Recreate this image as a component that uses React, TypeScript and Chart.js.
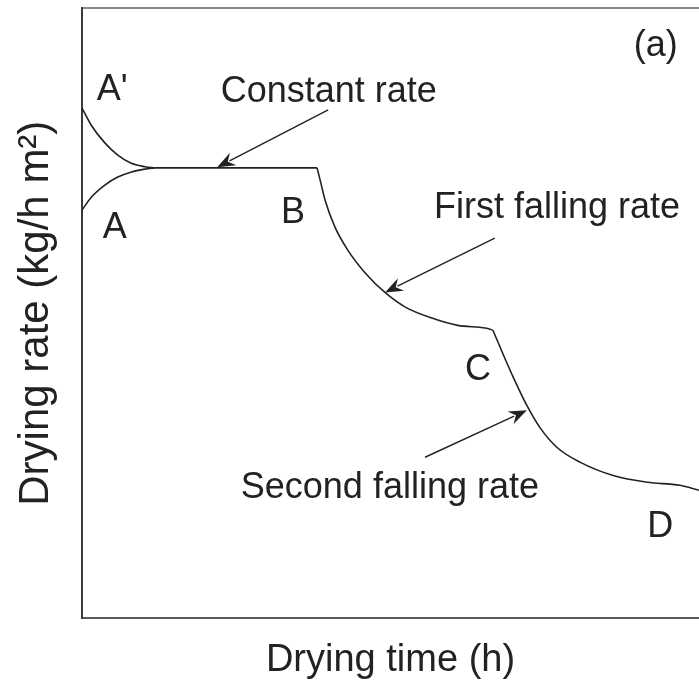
import React, { useEffect, useRef } from "react";
import { Chart, registerables } from "chart.js";

Chart.register(...registerables);

// Drying-rate curve (x: time 0–100, y: rate 0–100, arbitrary units)
const inletX = [0, 1.5, 3.7, 5.8, 7.9, 10.2, 11.8];
const inletHotY = [83.6, 80.8, 77.9, 75.9, 74.6, 74.0, 73.8]; // A'
const inletColdY = [66.9, 69.0, 71.0, 72.3, 73.1, 73.6, 73.8]; // A
const constantX = [11.8, 38.1];
const constantY = [73.8, 73.8];
const firstFallX = [38.1, 38.6, 39.4, 41.0, 43.1, 45.9, 49.1, 52.4, 56.7, 60.9, 65.8, 66.6];
const firstFallY = [73.8, 71.8, 68.5, 64.1, 60.3, 56.6, 53.4, 51.0, 49.2, 48.0, 47.5, 47.2];
const secondFallX = [66.6, 68.2, 69.9, 72.1, 74.2, 77.0, 80.7, 86.1, 91.6, 96.9, 100];
const secondFallY = [47.2, 43.4, 39.5, 34.9, 31.3, 28.0, 25.6, 23.4, 22.3, 21.8, 21.0];

// Annotation labels (data coordinates of the text baseline centre)
const labelTexts = ["A'", "A", "B", "C", "D", "Constant rate", "(a)", "First falling rate", "Second falling rate"];
const labelX = [4.9, 5.3, 34.2, 64.2, 93.7, 40.0, 93.0, 77.0, 49.9];
const labelY = [84.9, 62.3, 64.75, 39.0, 13.3, 84.6, 92.2, 65.6, 19.8];

// Arrows (data coordinates: tail -> head)
const arrowFromX = [39.9, 66.9, 55.6];
const arrowFromY = [83.3, 62.3, 26.4];
const arrowToX = [21.9, 49.1, 72.1];
const arrowToY = [73.9, 53.4, 34.1];

const xTitle = "Drying time (h)";
const yTitle = "Drying rate (kg/h m\u00B2)";

const FONT = "'Liberation Sans', Arial, Helvetica, sans-serif";
const INK = "#222222";

function toPoints(xs: number[], ys: number[]) {
  return xs.map((x, i) => ({ x, y: ys[i] }));
}

const annotationPlugin = {
  id: "annotations",
  afterDatasetsDraw(chart: any) {
    const { ctx, scales } = chart;
    const xs = scales.x;
    const ys = scales.y;
    ctx.save();
    ctx.fillStyle = INK;
    ctx.strokeStyle = INK;
    ctx.font = `36px ${FONT}`;
    ctx.textAlign = "center";
    ctx.textBaseline = "alphabetic";
    labelTexts.forEach((t, i) => {
      ctx.fillText(t, xs.getPixelForValue(labelX[i]), ys.getPixelForValue(labelY[i]));
    });
    ctx.lineWidth = 1.4;
    arrowFromX.forEach((_, i) => {
      const x1 = xs.getPixelForValue(arrowFromX[i]);
      const y1 = ys.getPixelForValue(arrowFromY[i]);
      const x2 = xs.getPixelForValue(arrowToX[i]);
      const y2 = ys.getPixelForValue(arrowToY[i]);
      const ang = Math.atan2(y2 - y1, x2 - x1);
      const headLen = 18;
      const headW = 7;
      const bx = x2 - headLen * Math.cos(ang);
      const by = y2 - headLen * Math.sin(ang);
      ctx.beginPath();
      ctx.moveTo(x1, y1);
      ctx.lineTo(bx + 4 * Math.cos(ang), by + 4 * Math.sin(ang));
      ctx.stroke();
      ctx.beginPath();
      ctx.moveTo(x2, y2);
      ctx.lineTo(bx + headW * Math.sin(ang), by - headW * Math.cos(ang));
      ctx.lineTo(x2 - (headLen - 6) * Math.cos(ang), y2 - (headLen - 6) * Math.sin(ang));
      ctx.lineTo(bx - headW * Math.sin(ang), by + headW * Math.cos(ang));
      ctx.closePath();
      ctx.fill();
    });
    ctx.restore();
  },
};

export default function App() {
  const ref = useRef<HTMLCanvasElement | null>(null);

  useEffect(() => {
    if (!ref.current) return;
    const lineStyle = {
      borderColor: INK,
      borderWidth: 1.6,
      pointRadius: 0,
      fill: false,
      cubicInterpolationMode: "monotone" as const,
    };
    const chart = new Chart(ref.current, {
      type: "line",
      data: {
        datasets: [
          { label: "A'", data: toPoints(inletX, inletHotY), ...lineStyle },
          { label: "A", data: toPoints(inletX, inletColdY), ...lineStyle },
          { label: "Constant rate", data: toPoints(constantX, constantY), ...lineStyle },
          { label: "First falling rate", data: toPoints(firstFallX, firstFallY), ...lineStyle },
          { label: "Second falling rate", data: toPoints(secondFallX, secondFallY), ...lineStyle },
        ],
      },
      options: {
        animation: false,
        responsive: true,
        maintainAspectRatio: false,
        layout: { padding: { top: 8, left: 0, right: 0, bottom: 0 } },
        plugins: {
          legend: { display: false },
          tooltip: { enabled: false },
        },
        scales: {
          x: {
            type: "linear",
            position: "bottom",
            min: 0,
            max: 100,
            ticks: { display: false },
            grid: { display: false, drawTicks: false },
            border: { display: true, color: "#5a5a5a", width: 2 },
            title: {
              display: true,
              text: xTitle,
              color: INK,
              font: { family: FONT, size: 38 },
              padding: { top: 19, bottom: 1 },
            },
          },
          x2: {
            type: "linear",
            position: "top",
            min: 0,
            max: 100,
            ticks: { display: false },
            grid: { display: false, drawTicks: false },
            border: { display: true, color: "#8a8a8a", width: 2 },
          },
          y: {
            type: "linear",
            position: "left",
            min: 0,
            max: 100,
            ticks: { display: false },
            grid: { display: false, drawTicks: false },
            border: { display: true, color: "#3a3a3a", width: 2 },
            title: {
              display: true,
              text: yTitle,
              color: INK,
              font: { family: FONT, size: 42 },
              padding: { top: 11, bottom: 20.6 },
            },
          },
        },
      },
      plugins: [annotationPlugin],
    });
    return () => chart.destroy();
  }, []);

  return (
    <div style={{ position: "absolute", left: 0, top: 0, width: 699, height: 684, background: "#fff" }}>
      <canvas ref={ref} />
    </div>
  );
}
